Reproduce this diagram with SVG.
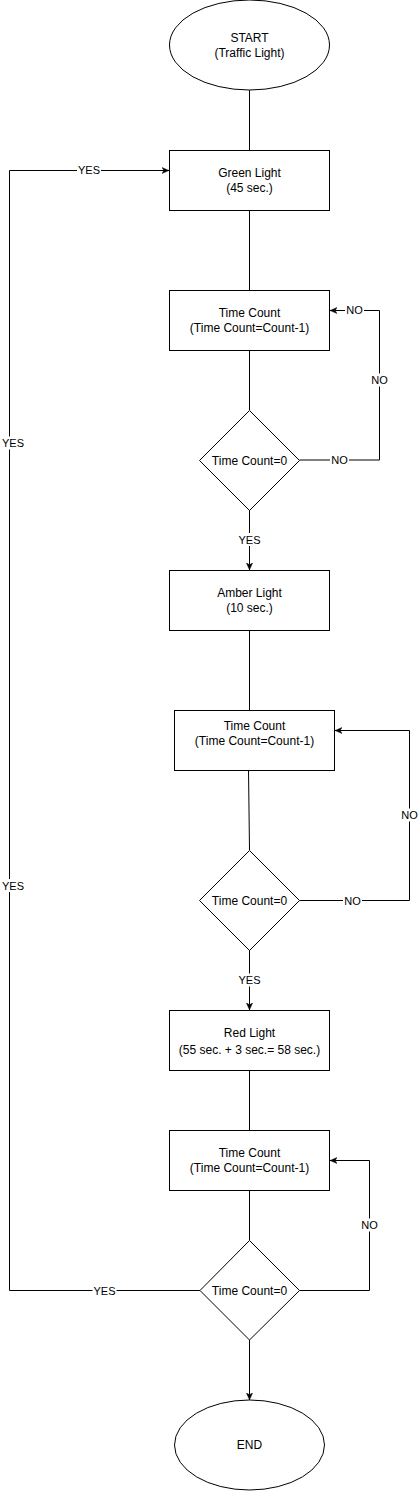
<svg xmlns="http://www.w3.org/2000/svg" width="418" height="1491" viewBox="0 0 418 1491">
<style>
.shape{fill:#ffffff;stroke:#000000;stroke-width:1}
.t{font-family:"Liberation Sans",Arial,sans-serif;font-size:12px;fill:#000000;text-anchor:middle}
.e{fill:none;stroke:#000000;stroke-width:1}
.lb{fill:#ffffff}
.lt{font-family:"Liberation Sans",Arial,sans-serif;font-size:11px;fill:#000000;text-anchor:middle}
</style>
<defs>
<marker id="arr" viewBox="0 0 10 8" refX="9" refY="4" markerWidth="8" markerHeight="7" markerUnits="userSpaceOnUse" orient="auto">
<path d="M0,0 L9,4 L0,8 L2.5,4 Z" fill="#000000" stroke="#000000" stroke-width="0.5"/>
</marker>
</defs>
<rect width="418" height="1491" fill="#ffffff"/>
<g id="connectors">
<path class="e" d="M249.5,90 V150"/>
<path class="e" d="M249.5,210 V290"/>
<path class="e" d="M249.5,350 V410"/>
<path class="e" d="M299.5,460 H379.5 V310.5 H330" marker-end="url(#arr)"/>
<path class="e" d="M249.5,510 V570" marker-end="url(#arr)"/>
<path class="e" d="M249.5,630 V710"/>
<path class="e" d="M248.5,770 L249.5,850"/>
<path class="e" d="M299.5,900.5 H409.5 V730.5 H335" marker-end="url(#arr)"/>
<path class="e" d="M249.5,950 V1010" marker-end="url(#arr)"/>
<path class="e" d="M249.5,1070 V1130"/>
<path class="e" d="M249.5,1190 V1240"/>
<path class="e" d="M299.5,1290.5 H369.5 V1160.5 H330" marker-end="url(#arr)"/>
<path class="e" d="M200,1290.5 H9.5 V170.5 H169" marker-end="url(#arr)"/>
<path class="e" d="M249.5,1340 V1400" marker-end="url(#arr)"/>
<g id="edge-labels">
<rect class="lb" x="77" y="163.5" width="24" height="13"/><text class="lt" x="89" y="174">YES</text>
<rect class="lb" x="330" y="453.5" width="19" height="13"/><text class="lt" x="339.5" y="464">NO</text>
<rect class="lb" x="370" y="373.5" width="19" height="13"/><text class="lt" x="379.5" y="384">NO</text>
<rect class="lb" x="345" y="303.5" width="19" height="13"/><text class="lt" x="354.5" y="314">NO</text>
<rect class="lb" x="237.5" y="533" width="24" height="13"/><text class="lt" x="249.5" y="543.5">YES</text>
<rect class="lb" x="343" y="894" width="19" height="13"/><text class="lt" x="352.5" y="904.5">NO</text>
<rect class="lb" x="400" y="808.5" width="18" height="13"/><text class="lt" x="409.5" y="819">NO</text>
<rect class="lb" x="237.5" y="973.5" width="24" height="13"/><text class="lt" x="249.5" y="984">YES</text>
<rect class="lb" x="360" y="1218.5" width="19" height="13"/><text class="lt" x="369.5" y="1229">NO</text>
<rect class="lb" x="92.5" y="1284" width="24" height="13"/><text class="lt" x="104.5" y="1294.5">YES</text>
<rect class="lb" x="1" y="436.5" width="24" height="13"/><text class="lt" x="13" y="447">YES</text>
<rect class="lb" x="1" y="879" width="24" height="13"/><text class="lt" x="13" y="889.5">YES</text>
</g>
</g>
<g id="start">
<ellipse class="shape" cx="249.5" cy="45" rx="80" ry="45"/>
<text class="t" x="249.5" y="41.5">START</text>
<text class="t" x="249.5" y="56.5">(Traffic Light)</text>
</g>
<g id="green">
<rect class="shape" x="169.5" y="150.5" width="160" height="60"/>
<text class="t" x="249.5" y="177">Green Light</text>
<text class="t" x="249.5" y="192">(45 sec.)</text>
</g>
<g id="count1">
<rect class="shape" x="169.5" y="290.5" width="160" height="60"/>
<text class="t" x="249.5" y="317">Time Count</text>
<text class="t" x="249.5" y="332">(Time Count=Count-1)</text>
</g>
<g id="decision1">
<path class="shape" d="M249.5,410.5 L299.5,460.5 L249.5,510.5 L199.5,460.5 Z"/>
<text class="t" x="249.5" y="464.5">Time Count=0</text>
</g>
<g id="amber">
<rect class="shape" x="169.5" y="570.5" width="160" height="60"/>
<text class="t" x="249.5" y="597">Amber Light</text>
<text class="t" x="249.5" y="612">(10 sec.)</text>
</g>
<g id="count2">
<rect class="shape" x="174.5" y="710.5" width="160" height="60"/>
<text class="t" x="254.5" y="730">Time Count</text>
<text class="t" x="254.5" y="744.5">(Time Count=Count-1)</text>
</g>
<g id="decision2">
<path class="shape" d="M249.5,850.5 L299.5,900.5 L249.5,950.5 L199.5,900.5 Z"/>
<text class="t" x="249.5" y="904.5">Time Count=0</text>
</g>
<g id="red">
<rect class="shape" x="169.5" y="1010.5" width="160" height="60"/>
<text class="t" x="249.5" y="1037">Red Light</text>
<text class="t" x="249.5" y="1054">(55 sec. + 3 sec.= 58 sec.)</text>
</g>
<g id="count3">
<rect class="shape" x="169.5" y="1130.5" width="160" height="60"/>
<text class="t" x="249.5" y="1157">Time Count</text>
<text class="t" x="249.5" y="1172">(Time Count=Count-1)</text>
</g>
<g id="decision3">
<path class="shape" d="M249.5,1240.5 L299.5,1290.5 L249.5,1340 L200,1290.5 Z"/>
<text class="t" x="249.5" y="1294.5">Time Count=0</text>
</g>
<g id="end">
<ellipse class="shape" cx="249.5" cy="1445" rx="75" ry="45"/>
<text class="t" x="249.5" y="1449">END</text>
</g>
</svg>
